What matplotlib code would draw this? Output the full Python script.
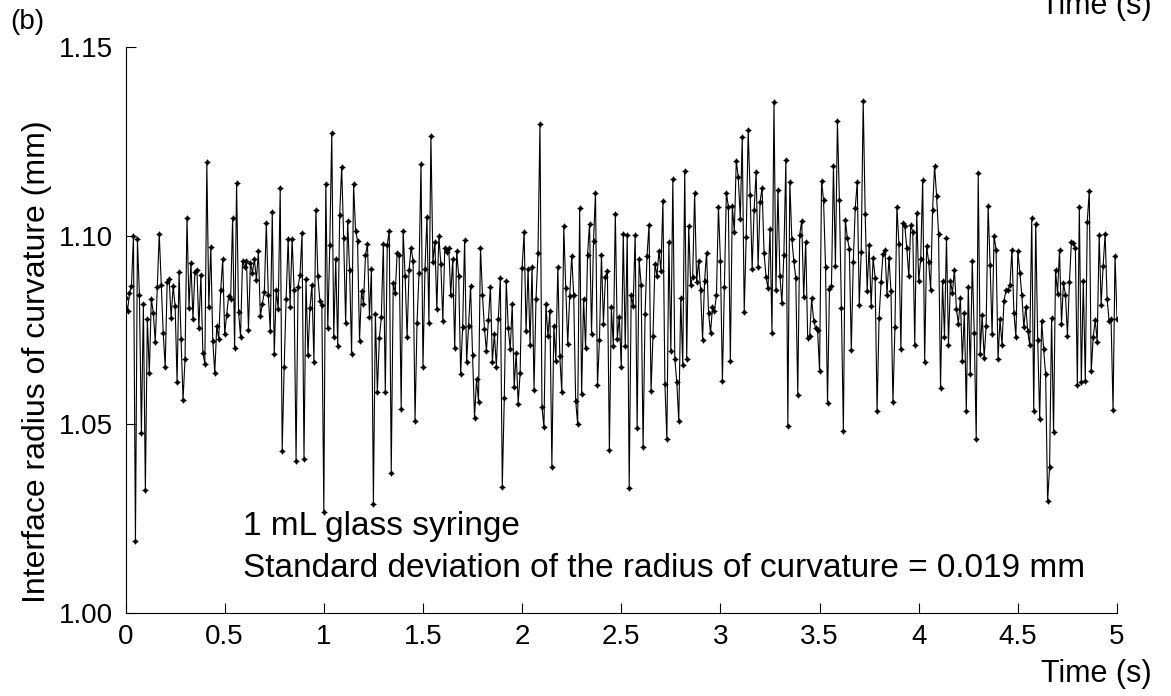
import numpy as np
import matplotlib.pyplot as plt

plt.rcParams['font.family'] = ['Liberation Sans', 'DejaVu Sans']

# sampling interval 0.01 s, 0 .. 5 s
dt = 0.01

radius = [
    1.0835, 1.0800, 1.0847, 1.0867, 1.1000, 1.0190, 1.0990, 1.0843, 1.0476, 1.0818,
    1.0325, 1.0780, 1.0636, 1.0833, 1.0796, 1.0718, 1.0864, 1.1005, 1.0870, 1.0742,
    1.0652, 1.0878, 1.0884, 1.0782, 1.0867, 1.0814, 1.0613, 1.0904, 1.0727, 1.0565,
    1.0672, 1.1048, 1.0809, 1.0928, 1.0780, 1.0904, 1.0910, 1.0756, 1.0897, 1.0689,
    1.0661, 1.1194, 1.0810, 1.0971, 1.0721, 1.0636, 1.0760, 1.0727, 1.0855, 1.0937,
    1.0740, 1.0789, 1.0840, 1.0831, 1.1048, 1.0701, 1.1140, 1.0798, 1.0732, 1.0934,
    1.0916, 1.0933, 1.0751, 1.0928, 1.0902, 1.0937, 1.0883, 1.0958, 1.0787, 1.0820,
    1.0850, 1.1034, 1.0843, 1.0747, 1.1062, 1.0685, 1.0855, 1.0806, 1.1127, 1.0430,
    1.0653, 1.0833, 1.0992, 1.0812, 1.0992, 1.0857, 1.0404, 1.0865, 1.0897, 1.1006,
    1.0408, 1.0884, 1.0683, 1.0809, 1.0868, 1.0666, 1.1069, 1.0892, 1.0827, 1.0815,
    1.0267, 1.1137, 1.0754, 1.0976, 1.1272, 1.0731, 1.0937, 1.0708, 1.1055, 1.1182,
    1.0995, 1.0769, 1.1040, 1.0908, 1.0685, 1.1137, 1.1013, 1.0987, 1.0722, 1.0852,
    1.0820, 1.0948, 1.0979, 1.0785, 1.0911, 1.0290, 1.0793, 1.0586, 1.0728, 1.0784,
    1.0979, 1.0586, 1.0976, 1.1013, 1.0370, 1.0874, 1.0849, 1.0955, 1.0950, 1.0541,
    1.1013, 1.0892, 1.0732, 1.0910, 1.0968, 1.0934, 1.0510, 1.0769, 1.0900, 1.1190,
    1.0652, 1.0911, 1.1050, 1.0769, 1.1264, 1.0930, 1.0983, 1.0805, 1.1000, 1.0926,
    1.0775, 1.0968, 1.0956, 1.0968, 1.0843, 1.0938, 1.0701, 1.0958, 1.0894, 1.0632,
    1.0758, 1.0989, 1.0664, 1.0761, 1.0866, 1.0683, 1.0518, 1.0619, 1.0560, 1.0968,
    1.0843, 1.0753, 1.0695, 1.0777, 1.0865, 1.0666, 1.0740, 1.0653, 1.0780, 1.0889,
    1.0335, 1.0569, 1.0880, 1.0754, 1.0699, 1.0818, 1.0598, 1.0690, 1.0555, 1.0637,
    1.0915, 1.1009, 1.0746, 1.0912, 1.0711, 1.0917, 1.0592, 1.0833, 1.0953, 1.1297,
    1.0546, 1.0492, 1.0820, 1.0734, 1.0800, 1.0388, 1.0760, 1.0669, 1.0918, 1.0680,
    1.0586, 1.1025, 1.0862, 1.0714, 1.0841, 1.0947, 1.0843, 1.0563, 1.0500, 1.1072,
    1.0579, 1.0833, 1.0701, 1.0950, 1.1032, 1.0739, 1.0985, 1.1114, 1.0603, 1.0724,
    1.0950, 1.0767, 1.0890, 1.0905, 1.0431, 1.0810, 1.0708, 1.1058, 1.0727, 1.0785,
    1.0651, 1.1005, 1.0708, 1.1003, 1.0331, 1.0843, 1.0814, 1.1003, 1.0489, 1.0937,
    1.0870, 1.0439, 1.0793, 1.0947, 1.1029, 1.0587, 1.0735, 1.0926, 1.0893, 1.0960,
    1.0907, 1.1092, 1.0607, 1.0460, 1.0984, 1.0693, 1.1149, 1.0674, 1.0611, 1.0509,
    1.0836, 1.0656, 1.1172, 1.0674, 1.1026, 1.0870, 1.0891, 1.1114, 1.0876, 1.0934,
    1.0855, 1.0724, 1.0879, 1.0955, 1.0796, 1.0742, 1.0810, 1.0800, 1.0843, 1.1077,
    1.0933, 1.0615, 1.0864, 1.1114, 1.1077, 1.0669, 1.1079, 1.1010, 1.1198, 1.1156,
    1.1045, 1.1261, 1.0798, 1.0997, 1.1280, 1.1107, 1.0912, 1.1069, 1.1169, 1.0917,
    1.1090, 1.1127, 1.0955, 1.0890, 1.0861, 1.1018, 1.0743, 1.1354, 1.0855, 1.1122,
    1.0893, 1.0822, 1.0950, 1.1200, 1.0496, 1.1143, 1.0992, 1.0933, 1.0888, 1.0577,
    1.1003, 1.1040, 1.0837, 1.0984, 1.0730, 1.0733, 1.0834, 1.0775, 1.0755, 1.0749,
    1.0642, 1.1145, 1.1095, 1.0917, 1.0557, 1.0859, 1.0867, 1.1185, 1.0920, 1.1304,
    1.1095, 1.0809, 1.0482, 1.1042, 1.0994, 1.0965, 1.0698, 1.0930, 1.1074, 1.1143,
    1.0817, 1.0957, 1.1357, 1.1057, 1.0854, 1.0976, 1.0814, 1.0941, 1.0889, 1.0534,
    1.0781, 1.0876, 1.0952, 1.0963, 1.0843, 1.0942, 1.0854, 1.0558, 1.0757, 1.1077,
    1.0979, 1.0699, 1.1034, 1.1025, 1.0966, 1.0893, 1.1029, 1.1009, 1.0711, 1.1061,
    1.0879, 1.0938, 1.1148, 1.0666, 1.0972, 1.0931, 1.0857, 1.1069, 1.1185, 1.1106,
    1.1005, 1.0595, 1.0879, 1.0732, 1.0995, 1.0709, 1.0879, 1.0849, 1.0910, 1.0806,
    1.0767, 1.0835, 1.0668, 1.0796, 1.0536, 1.0865, 1.0633, 1.0934, 1.0741, 1.0460,
    1.1166, 1.0687, 1.0789, 1.0676, 1.0761, 1.1079, 1.0923, 1.0739, 1.1000, 1.0963,
    1.0673, 1.0778, 1.0711, 1.0828, 1.0855, 1.0857, 1.0868, 1.0963, 1.0796, 1.0732,
    1.0960, 1.0900, 1.0843, 1.0757, 1.0812, 1.0746, 1.0709, 1.1048, 1.0534, 1.1032,
    1.0724, 1.0514, 1.0775, 1.0699, 1.0632, 1.0296, 1.0387, 1.0783, 1.0479, 1.0908,
    1.0846, 1.0963, 1.0766, 1.0874, 1.0844, 1.0735, 1.0876, 1.0984, 1.0981, 1.0968,
    1.0603, 1.1077, 1.0612, 1.0880, 1.0615, 1.1037, 1.1119, 1.0640, 1.0732, 1.0776,
    1.0719, 1.1003, 1.0817, 1.0920, 1.1005, 1.0833, 1.0774, 1.0780, 1.0537, 1.0947,
    1.0780,
]
time = np.arange(len(radius)) * dt

x_ticks = [0, 0.5, 1, 1.5, 2, 2.5, 3, 3.5, 4, 4.5, 5]
x_tick_labels = ['0', '0.5', '1', '1.5', '2', '2.5', '3', '3.5', '4', '4.5', '5']
y_ticks = [1.00, 1.05, 1.10, 1.15]
y_tick_labels = ['1.00', '1.05', '1.10', '1.15']

fig = plt.figure(figsize=(11.71, 6.96), dpi=100)
ax = fig.add_axes([0.1072, 0.1193, 0.8467, 0.8132])

ax.plot(time, radius, color='black', linewidth=0.8,
        marker=(4, 1, 0), markersize=4, markerfacecolor='black',
        markeredgecolor='black', markeredgewidth=0.6)

ax.set_xlim(0, 5)
ax.set_ylim(1.00, 1.15)
ax.set_xticks(x_ticks)
ax.set_xticklabels(x_tick_labels)
ax.set_yticks(y_ticks)
ax.set_yticklabels(y_tick_labels)
ax.tick_params(direction='in', length=7, width=0.8, labelsize=20)
ax.tick_params(axis='y', pad=9)
ax.tick_params(axis='x', pad=8)
ax.spines['top'].set_visible(False)
ax.spines['right'].set_visible(False)
for s in ['left', 'bottom']:
    ax.spines[s].set_linewidth(0.8)

fig.text(37 / 1171, 1 - 362 / 696, 'Interface radius of curvature (mm)',
         fontsize=23, rotation=90, ha='center', va='center')
fig.text(1152 / 1171, 1 - 674 / 696, 'Time (s)', fontsize=22,
         ha='right', va='center')

ax.text(0.59, 1.0228, '1 mL glass syringe', fontsize=24, va='center')
ax.text(0.59, 1.0119, 'Standard deviation of the radius of curvature = 0.019 mm',
        fontsize=24, va='center')

fig.text(10 / 1171, 1 - 22 / 696, '(b)', fontsize=20, ha='left', va='center')
fig.text(1152 / 1171, 1 - 6 / 696, 'Time (s)', fontsize=22, ha='right', va='center')

fig.savefig('out.png', dpi=100)
